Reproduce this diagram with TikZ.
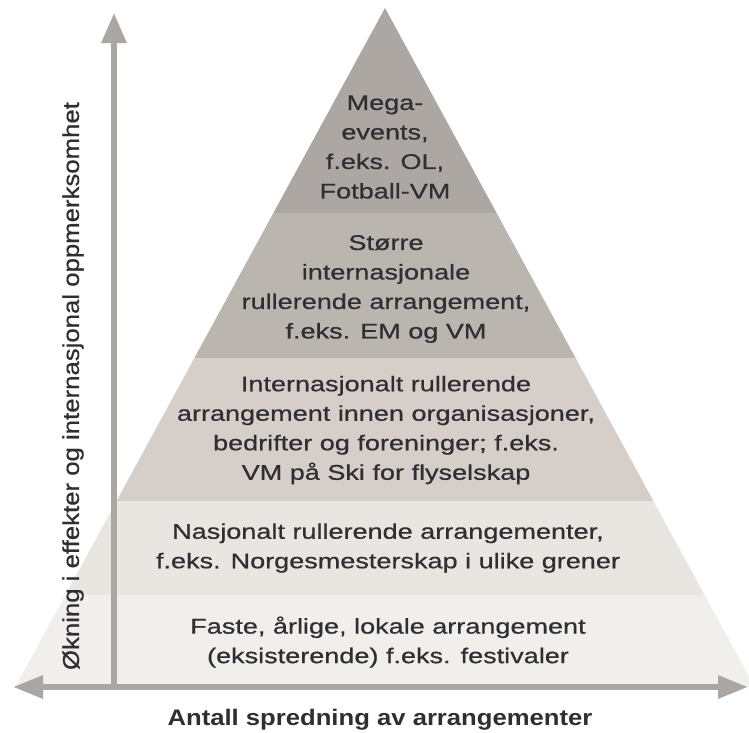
\documentclass[tikz,border=0pt]{standalone}
\usepackage{fontspec}
\setmainfont{Liberation Sans}
\newfontfamily\pyrfont[FakeStretch=1.27,FakeBold=0.6]{Liberation Sans}
\newfontfamily\vfont[FakeStretch=1.12,FakeBold=0.6]{Liberation Sans}
\newfontfamily\hfont[FakeStretch=1.14]{Liberation Sans}
\usetikzlibrary{arrows.meta}
\definecolor{bandA}{HTML}{ACA7A2}
\definecolor{bandB}{HTML}{BBB5B0}
\definecolor{bandC}{HTML}{D5CEC9}
\definecolor{bandD}{HTML}{E9E6E2}
\definecolor{bandE}{HTML}{F0EFEC}
\definecolor{axiscol}{HTML}{ABA6A1}
\definecolor{txt}{HTML}{2E2E33}
\tikzset{
  band/.style={draw=none},
  pyrtext/.style={align=center, text=txt, inner sep=0pt,
    font=\pyrfont\fontsize{21.3}{29.5}\selectfont},
  axis/.style={draw=axiscol, line width=6pt},
  axlabel/.style={text=txt, inner sep=0pt}
}
\begin{document}
\begin{tikzpicture}[x=1pt,y=-1pt]
\clip (0,0) rectangle (749,732);
\fill[white] (0,0) rectangle (749,732);
% pyramid bands
\fill[bandA] (385,8) -- (496.6,213) -- (273.4,213) -- cycle;
\fill[bandB] (273.4,213) -- (496.6,213) -- (575.6,358) -- (194.4,358) -- cycle;
\fill[bandC] (194.4,358) -- (575.6,358) -- (653.4,501) -- (116.6,501) -- cycle;
\fill[bandD] (116.6,501) -- (653.4,501) -- (704.6,595) -- (65.4,595) -- cycle;
\fill[bandE] (65.4,595) -- (704.6,595) -- (754.7,687) -- (15.3,687) -- cycle;
% texts
\node[pyrtext] (mega) at (385,147) {Mega-\\events,\\f.eks. OL,\\Fotball-VM};
\node[pyrtext] (storre) at (386,289) {Større\\internasjonale\\rullerende arrangement,\\f.eks. EM og VM};
\node[pyrtext] (intl) at (386,430) {Internasjonalt rullerende\\arrangement innen organisasjoner,\\bedrifter og foreninger; f.eks.\\VM på Ski for flyselskap};
\node[pyrtext] (nasj) at (388,548) {Nasjonalt rullerende arrangementer,\\f.eks. Norgesmesterskap i ulike grener};
\node[pyrtext] (faste) at (388,642) {Faste, årlige, lokale arrangement\\(eksisterende) f.eks. festivaler};
% axes
\coordinate (origin) at (114,687);
\coordinate (top) at (114,13);
\coordinate (left) at (13,687);
\coordinate (right) at (748,687);
\draw[axis, -{Triangle[length=30pt,width=24pt]}, axiscol] (origin) -- (top);
\draw[axis, {Triangle[length=30pt,width=22pt]}-{Triangle[length=30pt,width=22pt]}] (left) -- (right);
\node[axlabel, rotate=90, font=\vfont\fontsize{23}{27}\selectfont] (ylab) at (73,386) {Økning i effekter og internasjonal oppmerksomhet};
\node[axlabel, font=\hfont\bfseries\fontsize{22.5}{27}\selectfont] (xlab) at (380,720) {Antall spredning av arrangementer};
\end{tikzpicture}
\end{document}
